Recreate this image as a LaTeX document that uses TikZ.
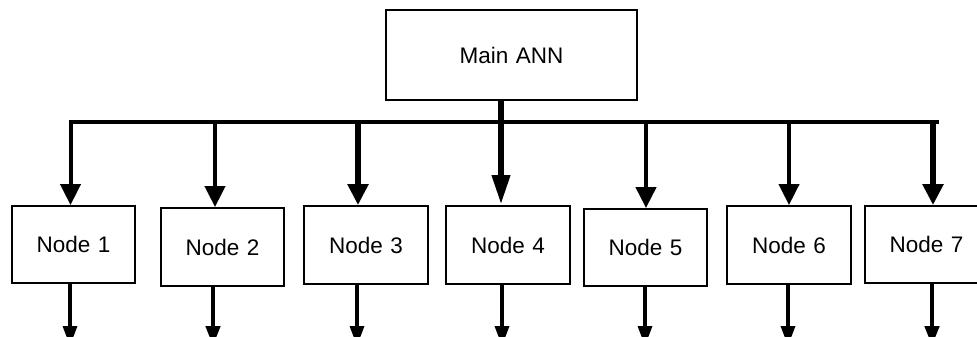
\documentclass[tikz,border=0pt]{standalone}
\usepackage{fontspec}
\setmainfont{Liberation Sans}
\usetikzlibrary{arrows.meta}
\tikzset{
  box/.style={draw=black, line width=1.8pt, fill=white, inner sep=0pt,
    font=\fontsize{22.5pt}{25pt}\selectfont, anchor=center},
  bus/.style={line width=3.3pt, line cap=rect},
  down/.style={line width=#1, -{Triangle[width=20pt,length=21pt]}},
  outarrow/.style={line width=#1, -{Triangle[width=14pt,length=20pt]}},
}
\begin{document}
\begin{tikzpicture}[x=1pt,y=-1pt]
\clip (0,0) rectangle (977,337);
\fill[white] (0,0) rectangle (977,337);
\node[box, minimum width=251pt, minimum height=90pt] (main) at (511.5,55) {Main\,\,ANN};
\node[box, minimum width=123pt, minimum height=77pt] (n1) at (73.5,244.5) {Node\,\,1};
\node[box, minimum width=123pt, minimum height=78pt] (n2) at (222.5,247) {Node\,\,2};
\node[box, minimum width=124pt, minimum height=78pt] (n3) at (366,245) {Node\,\,3};
\node[box, minimum width=124pt, minimum height=78pt] (n4) at (508,245) {Node\,\,4};
\node[box, minimum width=123pt, minimum height=77pt] (n5) at (645.5,247.5) {Node\,\,5};
\node[box, minimum width=124pt, minimum height=78pt] (n6) at (789,245) {Node\,\,6};
\node[box, minimum width=123pt, minimum height=77pt] (n7) at (926.5,244.5) {Node\,\,7};
% bus coordinates
\coordinate (b1) at (70.5,122);
\coordinate (b2) at (215,122);
\coordinate (b3) at (358,122);
\coordinate (b4) at (501,122);
\coordinate (b5) at (646,122);
\coordinate (b6) at (789,122);
\coordinate (b7) at (933,122);
\coordinate (bend) at (937,122);
\draw[bus] (b1) -- (bend);
% main down to node 4
\draw[line width=6.5pt, -{Triangle[width=17pt,length=30pt]}] (main.south -| b4) -- (b4 |- n4.north);
% branches
\draw[down=4pt] (b1) -- (b1 |- n1.north);
\draw[down=4pt] (b2) -- (b2 |- n2.north);
\draw[down=6.5pt] (b3) -- (b3 |- n3.north);
\draw[down=4.3pt] (b5) -- (b5 |- n5.north);
\draw[down=4pt] (b6) -- (b6 |- n6.north);
\draw[down=6.5pt] (b7) -- (b7 |- n7.north);
% outputs
\coordinate (e1) at (70,346);
\coordinate (e2) at (213,346);
\coordinate (e3) at (357,346);
\coordinate (e4) at (502,346);
\coordinate (e5) at (645,346);
\coordinate (e6) at (788,346);
\coordinate (e7) at (932,346);
\draw[outarrow=3.3pt] (e1 |- n1.south) -- (e1);
\draw[outarrow=4.3pt] (e2 |- n2.south) -- (e2);
\draw[outarrow=3.3pt] (e3 |- n3.south) -- (e3);
\draw[outarrow=3.5pt] (e4 |- n4.south) -- (e4);
\draw[outarrow=3.3pt] (e5 |- n5.south) -- (e5);
\draw[outarrow=3.3pt] (e6 |- n6.south) -- (e6);
\draw[outarrow=4.5pt] (e7 |- n7.south) -- (e7);
\end{tikzpicture}
\end{document}
